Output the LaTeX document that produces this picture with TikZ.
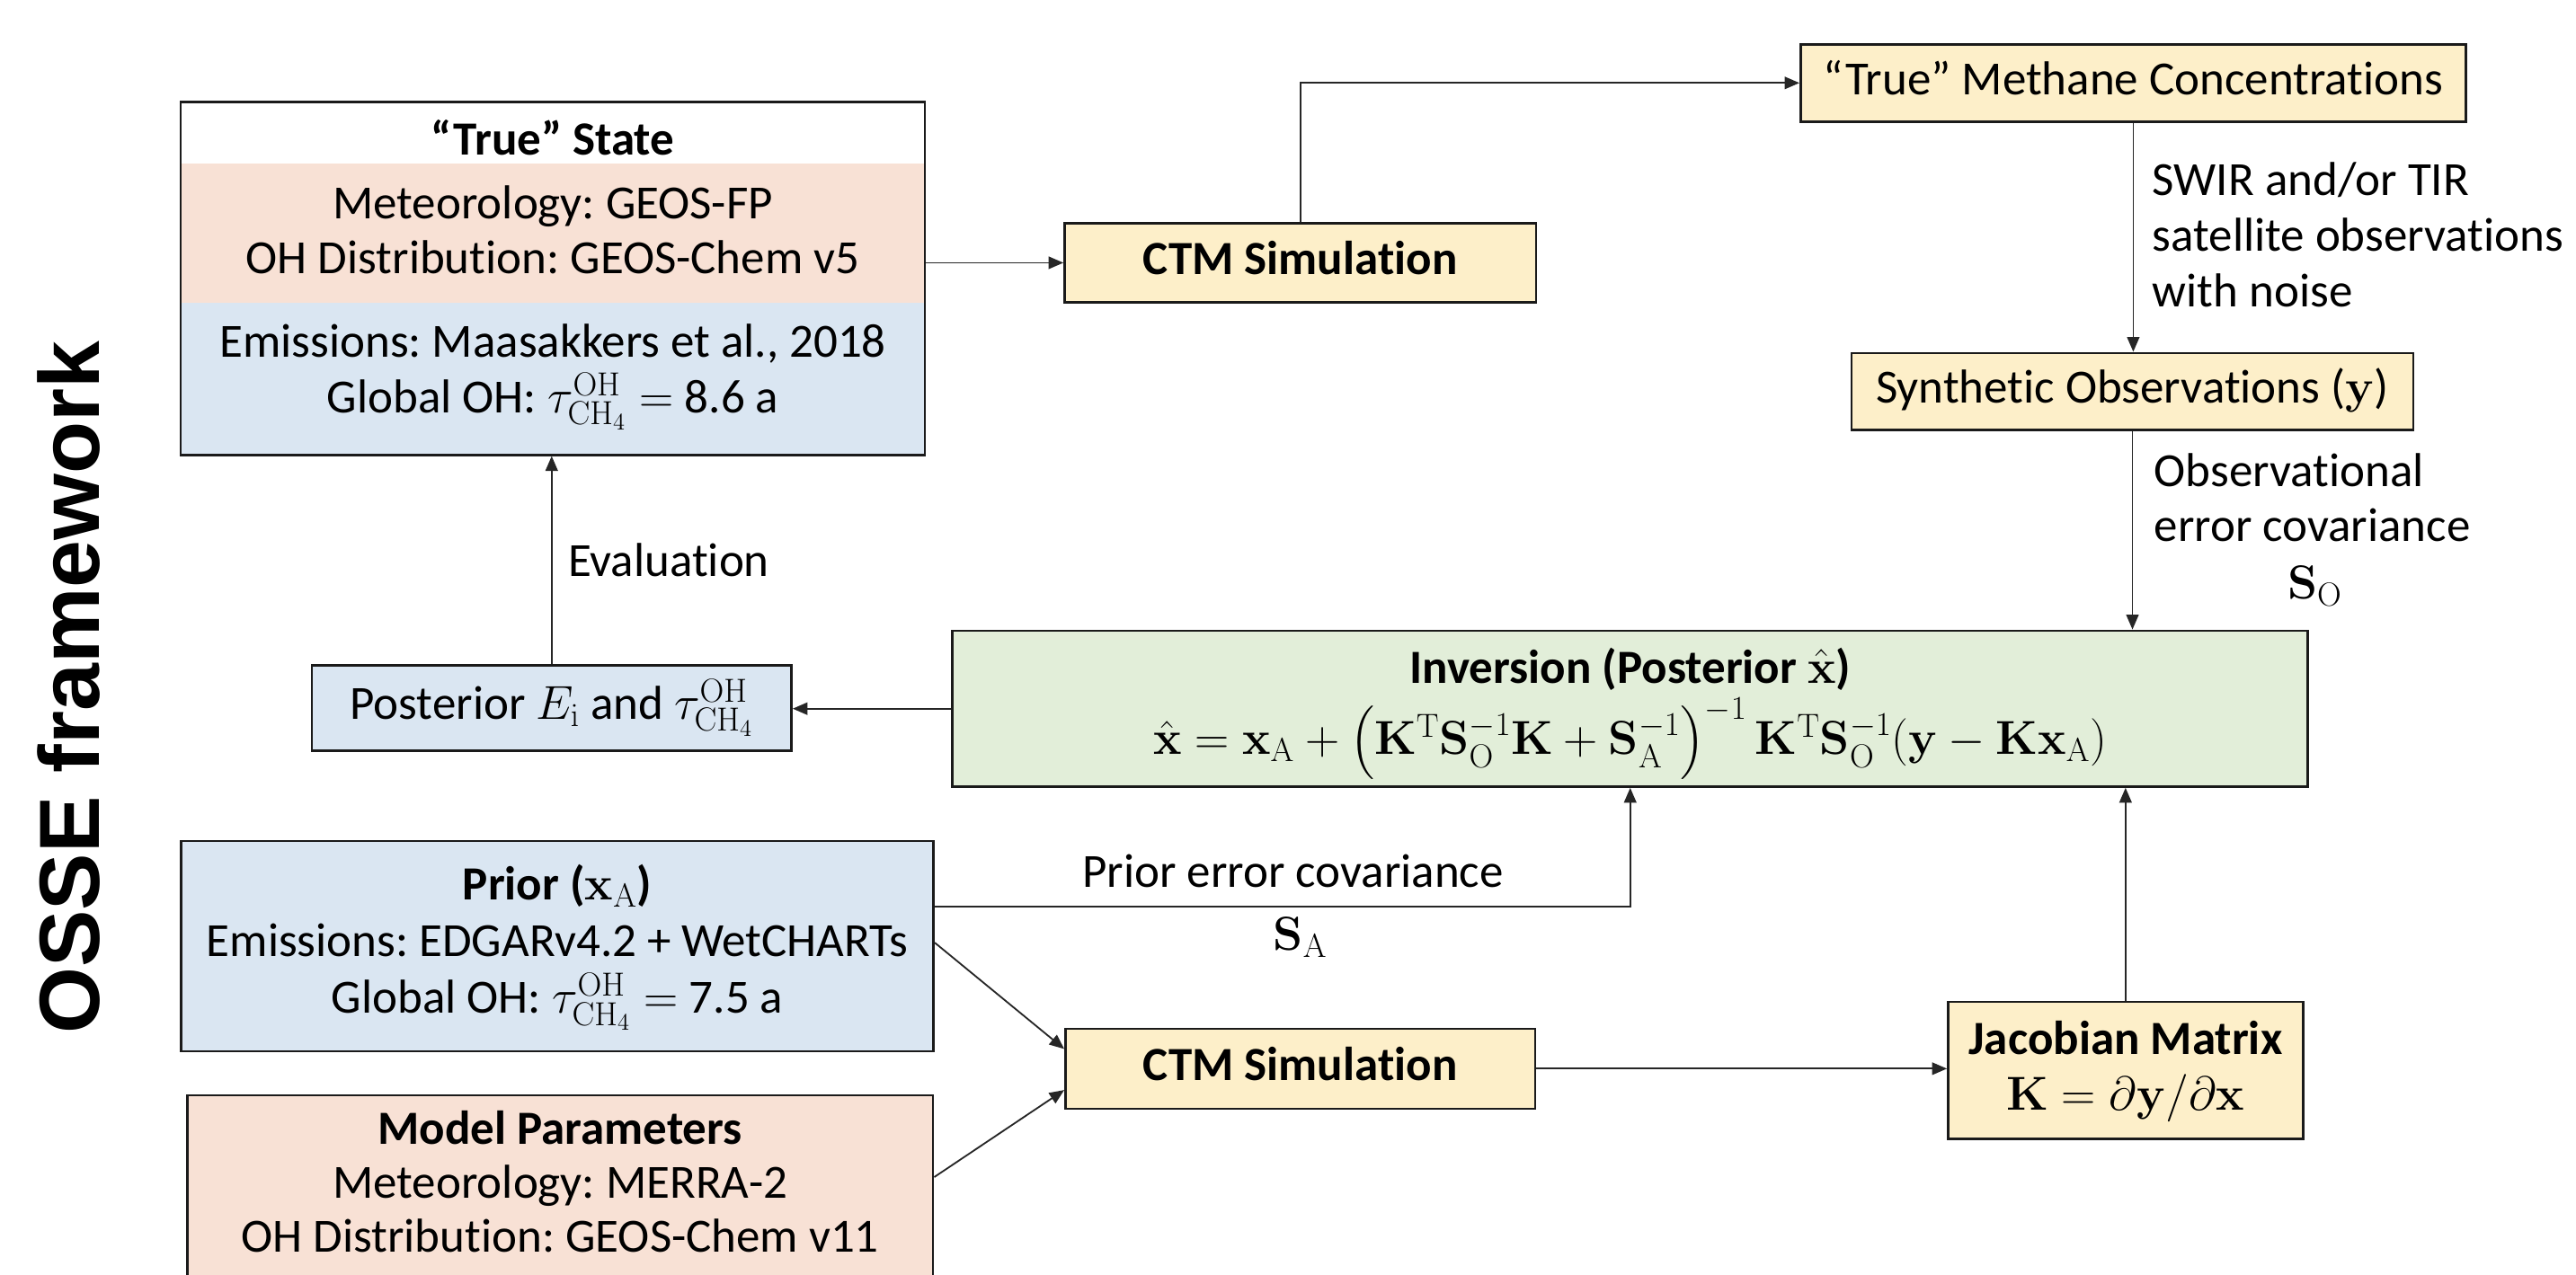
\RequirePackage{fix-cm}
\documentclass[tikz,border=0pt]{standalone}
\usepackage{amsmath}
\usepackage[no-math]{fontspec}
\setmainfont{Carlito}[Ligatures={NoCommon}]
\newfontfamily\osfont{Liberation Sans}
\usetikzlibrary{arrows.meta,calc}

\definecolor{peach}{HTML}{F8E1D5}
\definecolor{paleblue}{HTML}{DAE6F2}
\definecolor{paleyellow}{HTML}{FDEFC9}
\definecolor{palegreen}{HTML}{E2EED9}
\definecolor{edge}{HTML}{1A1A1A}

\newcommand{\tauoh}{\tau^{\mathrm{OH}}_{\mathrm{CH}_4}}
\frenchspacing

\tikzset{
  txt/.style={font=\fontsize{29}{34}\selectfont, inner sep=0pt, text height=20pt, text depth=6pt},
  lines/.style={font=\fontsize{29}{33.7}\selectfont, inner sep=0pt, align=left},
  panel/.style={draw=edge, line width=1.4pt, inner sep=0pt},
  onebox/.style={panel, txt, fill=paleyellow},
  arr/.style={draw=black!85, line width=1pt, -{Triangle[length=9pt,width=7.5pt]}},
}

\begin{document}
\begin{tikzpicture}[x=1pt,y=-1pt]
\clip (0,0) rectangle (1568,776);

% side title
\node[rotate=90, inner sep=0pt, font=\osfont\bfseries\fontsize{52}{60}\selectfont] (osse) at (42,418.5) {OSSE framework};

% "True" state panel with its coloured bands
\fill[peach] (110,99.4) rectangle (563,184.2);
\fill[paleblue] (110,184.2) rectangle (563,277);
\node[panel, minimum width=453pt, minimum height=215pt] (truestate) at (336.5,169.5) {};
\node[txt, font=\fontsize{29}{34}\selectfont\bfseries] (tsA) at (336.5,87.5) {“True” State};
\node[txt] (tsB) at (336.5,126) {Meteorology: GEOS-FP};
\node[txt] (tsC) at (336.5,159.6) {OH Distribution: GEOS-Chem v5};
\node[txt] (tsD) at (336.5,210.6) {Emissions: Maasakkers et al., 2018};
\node[txt] (tsE) at (336.5,244.3) {Global OH: $\tauoh =$ 8.6 a};

% simulation and observation boxes
\node[onebox, font=\fontsize{29}{34}\selectfont\bfseries, minimum width=287pt, minimum height=48pt] (ctm1) at (791.5,160) {CTM Simulation};
\node[onebox, minimum width=405pt, minimum height=47pt] (methane) at (1298.5,50.5) {“True” Methane Concentrations};
\node[onebox, minimum width=342pt, minimum height=47pt] (synth) at (1298,238.4) {Synthetic Observations ($\mathbf{y}$)};

% inversion
\node[panel, fill=palegreen, minimum width=825pt, minimum height=95pt] (inv) at (992.3,431.5) {};
\node[txt, font=\fontsize{29}{34}\selectfont\bfseries] (invA) at (992.3,409) {Inversion (Posterior $\hat{\mathbf{x}}$)};
\node[txt] (invB) at (992.3,452.5) {$\hat{\mathbf{x}} = \mathbf{x}_{\mathrm{A}} + \left(\mathbf{K}^{\mathrm{T}}\mathbf{S}_{\mathrm{O}}^{-1}\mathbf{K} + \mathbf{S}_{\mathrm{A}}^{-1}\right)^{-1}\mathbf{K}^{\mathrm{T}}\mathbf{S}_{\mathrm{O}}^{-1}(\mathbf{y} - \mathbf{K}\mathbf{x}_{\mathrm{A}})$};

% posterior
\node[panel, txt, fill=paleblue, minimum width=292pt, minimum height=52pt] (post) at (335.8,431) {Posterior $E_{\mathrm{i}}$ and $\tauoh$};

% prior
\node[panel, fill=paleblue, minimum width=458pt, minimum height=128pt] (prior) at (339.3,576) {};
\node[txt, font=\fontsize{29}{34}\selectfont\bfseries] (prA) at (339.3,541) {Prior ($\mathbf{x}_{\mathrm{A}}$)};
\node[txt] (prB) at (339.3,575.5) {Emissions: EDGARv4.2 + WetCHARTs};
\node[txt] (prC) at (339.3,610) {Global OH: $\tauoh =$ 7.5 a};

% model parameters
\node[panel, fill=peach, minimum width=454pt, minimum height=133pt] (model) at (341,733.5) {};
\node[txt, font=\fontsize{29}{34}\selectfont\bfseries] (mpA) at (341,690) {Model Parameters};
\node[txt] (mpB) at (341,722.5) {Meteorology: MERRA-2};
\node[txt] (mpC) at (341,755.5) {OH Distribution: GEOS-Chem v11};

% forward model and Jacobian
\node[onebox, font=\fontsize{29}{34}\selectfont\bfseries, minimum width=286pt, minimum height=48.6pt] (ctm2) at (791.5,650.7) {CTM Simulation};
\node[panel, fill=paleyellow, minimum width=216pt, minimum height=83.5pt] (jac) at (1293.8,651.8) {};
\node[txt, font=\fontsize{29}{34}\selectfont\bfseries] (jacA) at (1293.8,635) {Jacobian Matrix};
\node[txt] (jacB) at (1293.8,669) {$\mathbf{K} = \partial\mathbf{y}/\partial\mathbf{x}$};

% connectors
\draw[arr] (ctm1.west -| truestate.east) -- (ctm1.west);
\draw[arr] (ctm1.north) |- (methane.west);
\draw[arr] (methane.south) -- (methane.south |- synth.north);
\draw[arr] (synth.south) -- (synth.south |- inv.north);
\draw[arr] (inv.west) -- (inv.west -| post.east);
\draw[arr] (post.north) -- (post.north |- truestate.south);
\draw[arr] ([yshift=24pt]prior.east) -| (inv.south);
\draw[arr] ([yshift=2pt]prior.east) -- ([yshift=12pt]ctm2.west);
\draw[arr] ([yshift=16.8pt]model.east) -- ([yshift=-13pt]ctm2.west);
\draw[arr] (ctm2.east) -- (ctm2.east -| jac.west);
\draw[arr] (jac.north) -- (jac.north |- inv.south);

% connector labels
\node[lines, anchor=west] (swir) at (1310,143) {SWIR and/or TIR\\satellite observations\\with noise};
\node[lines, anchor=west] (obslbl) at (1311,303) {Observational\\error covariance};
\node[txt] (solbl) at (1409,357.5) {$\mathbf{S}_{\mathrm{O}}$};
\node[txt, anchor=west] (evallbl) at (345.6,343.7) {Evaluation};
\node[txt] (pcovlbl) at (787,533.4) {Prior error covariance};
\node[txt] (salbl) at (791.4,571.6) {$\mathbf{S}_{\mathrm{A}}$};
\end{tikzpicture}
\end{document}
